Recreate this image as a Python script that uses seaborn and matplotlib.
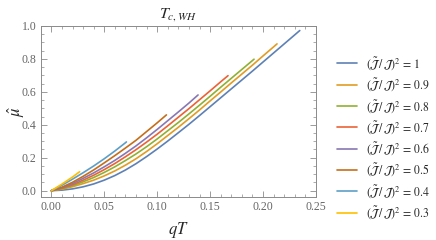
"""Critical temperature curves: mu-hat vs qT for several coupling ratios."""

import matplotlib
matplotlib.use("Agg")
import matplotlib.pyplot as plt
import seaborn as sns
from matplotlib.ticker import MultipleLocator

# Data (qT, mu-hat) per ratio (J~/J)^2
ratios = ["1", "0.9", "0.8", "0.7", "0.6", "0.5", "0.4", "0.3"]

qT_10 = [0, .01, .02, .03, .04, .05, .06, .07, .08, .09, .10, .11, .12,
         .13, .14, .15, .16, .17, .18, .19, .20, .21, .22, .23, .2347]
mu_10 = [0, .0033, .011, .0235, .041, .064, .092, .1255, .164, .207, .253,
         .3015, .352, .403, .456, .510, .564, .618, .672, .726, .781, .836,
         .891, .946, .972]

qT_09 = [0, .01, .02, .03, .04, .05, .06, .07, .08, .09, .10, .11, .12,
         .13, .14, .15, .16, .17, .18, .19, .20, .21, .2132]
mu_09 = [0, .009, .024, .043, .064, .090, .120, .155, .194, .238, .285,
         .335, .385, .437, .490, .545, .599, .654, .708, .762, .818, .873,
         .891]

qT_08 = [0, .01, .02, .03, .04, .05, .06, .07, .08, .09, .10, .11, .12,
         .13, .14, .15, .16, .17, .18, .19, .1915]
mu_08 = [0, .012, .030, .054, .080, .111, .145, .183, .223, .267, .314,
         .364, .414, .466, .519, .573, .628, .682, .736, .790, .798]

qT_07 = [0, .01, .02, .03, .04, .05, .06, .07, .08, .09, .10, .11, .12,
         .13, .14, .15, .16, .1669]
mu_07 = [0, .015, .036, .064, .094, .128, .165, .206, .249, .295, .343,
         .394, .446, .498, .552, .606, .661, .698]

qT_06 = [0, .01, .02, .03, .04, .05, .06, .07, .08, .09, .10, .11, .12,
         .13, .1386]
mu_06 = [0, .018, .043, .075, .108, .145, .184, .227, .272, .321, .372,
         .425, .478, .532, .581]

qT_05 = [0, .01, .02, .03, .04, .05, .06, .07, .08, .09, .10, .1087]
mu_05 = [0, .021, .051, .087, .126, .169, .213, .259, .306, .359, .412, .460]

qT_04 = [0, .01, .02, .03, .04, .05, .06, .07, .0709]
mu_04 = [0, .033, .070, .109, .150, .194, .241, .291, .296]

qT_03 = [0, .01, .02, .0267]
mu_03 = [0, .040, .083, .115]

curves = [
    (qT_10, mu_10), (qT_09, mu_09), (qT_08, mu_08), (qT_07, mu_07),
    (qT_06, mu_06), (qT_05, mu_05), (qT_04, mu_04), (qT_03, mu_03),
]

# Mathematica default palette
COLORS = ["#5E81B5", "#E19C24", "#8FB032", "#EB6235",
          "#8778B3", "#C56E1A", "#5D9EC7", "#FFBF00"]

sns.set_theme(style="ticks")
plt.rcParams["font.family"] = ["Liberation Serif", "DejaVu Serif"]
plt.rcParams["mathtext.fontset"] = "stix"

fig = plt.figure(figsize=(4.36, 2.40), dpi=100)
ax = fig.add_axes([0.0933, 0.178, 0.6326, 0.714])

for (xs, ys), r, c in zip(curves, ratios, COLORS):
    sns.lineplot(x=xs, y=ys, sort=False, color=c, linewidth=1.2, ax=ax,
                 label=rf"$(\tilde{{\mathcal{{J}}}}\,/\,\mathcal{{J}})^2\,=\,{r}$")

ax.set_xlim(-0.0101, 0.2505)
ax.set_ylim(-0.04, 1.0)
ax.set_xticks([0, 0.05, 0.10, 0.15, 0.20, 0.25])
ax.set_xticklabels(["0.00", "0.05", "0.10", "0.15", "0.20", "0.25"])
ax.set_yticks([0, 0.2, 0.4, 0.6, 0.8, 1.0])
ax.set_yticklabels(["0.0", "0.2", "0.4", "0.6", "0.8", "1.0"])
ax.xaxis.set_minor_locator(MultipleLocator(0.01))
ax.yaxis.set_minor_locator(MultipleLocator(0.05))

ax.tick_params(which="both", direction="in", top=True, right=True,
               color="#8a8a8a", labelsize=8.5, labelcolor="#666666", pad=3)
ax.tick_params(which="major", length=4, width=0.6)
ax.tick_params(which="minor", length=2, width=0.5)
for sp in ax.spines.values():
    sp.set_color("#8a8a8a")
    sp.set_linewidth(0.7)

ax.set_xlabel(r"$qT$", fontsize=12, labelpad=5)
ax.set_ylabel(r"$\hat{\mu}$", fontsize=12)
ax.yaxis.set_label_coords(-0.05, 0.5)
ax.set_title(r"$T_{c,WH}$", fontsize=11.5, pad=6)

ax.get_legend().remove()
handles, labels = ax.get_legend_handles_labels()
fig.legend(handles, labels, loc="upper left", bbox_to_anchor=(0.762, 0.79),
           frameon=False, fontsize=8.5, handlelength=1.7, labelspacing=0.38,
           handletextpad=0.8, borderaxespad=0)

fig.savefig("out.png", dpi=100, facecolor="white")
plt.close(fig)
